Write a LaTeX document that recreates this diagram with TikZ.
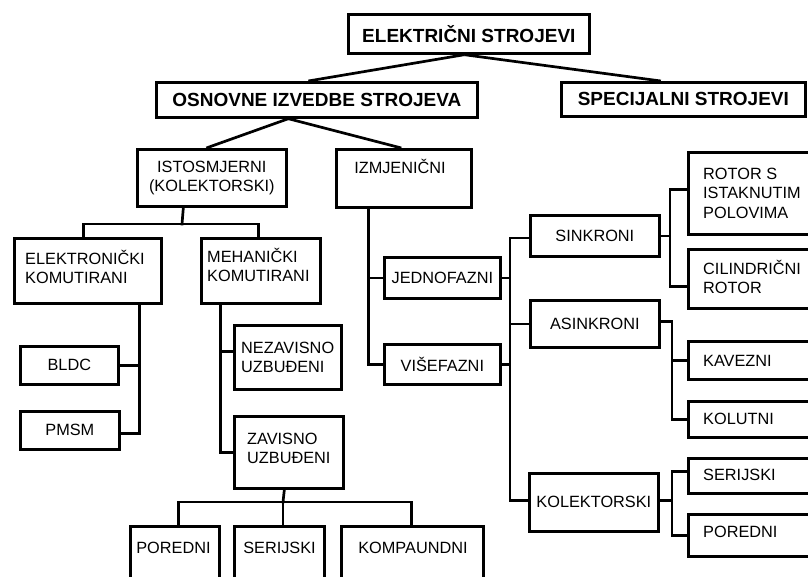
\documentclass[tikz,border=0pt]{standalone}
\usepackage{fontspec}
\setmainfont{Liberation Sans}
\newcommand\hdfont{\fontsize{19}{22}\selectfont\bfseries}
\newcommand\lbfont{\fontsize{16.3}{19.5}\selectfont}
\begin{document}
\begin{tikzpicture}[x=1pt,y=-1pt,
  box/.style={draw, line width=2.7pt, inner sep=0pt, anchor=north west},
  hd/.style={font=\hdfont, align=center},
  lb/.style={font=\lbfont, align=center},
  tx/.style={font=\lbfont, align=left, inner sep=0pt},
  conn/.style={line width=2.7pt, line cap=rect, line join=miter}]
\useasboundingbox (0,0) rectangle (808,576);
\fill[white] (0,0) rectangle (808,576);
\clip (0,0) rectangle (808,576);
% ---- boxes
\node[box,hd,minimum width=241,minimum height=39] (EL) at (347,13) {ELEKTRIČNI STROJEVI};
\node[box,hd,minimum width=321,minimum height=35] (OSN) at (155,81) {OSNOVNE IZVEDBE STROJEVA};
\node[box,hd,minimum width=244,minimum height=34] (SPEC) at (560,81) {SPECIJALNI STROJEVI};
\node[box,lb,minimum width=149,minimum height=57] (IST) at (136,148) {ISTOSMJERNI\\(KOLEKTORSKI)};
\node[box,minimum width=135,minimum height=58] (IZM) at (335,148) {};
\node[box,minimum width=147,minimum height=65] (ELK) at (13,237) {};
\node[box,minimum width=119,minimum height=65] (MEH) at (200,237) {};
\node[box,lb,minimum width=98,minimum height=38] (BLDC) at (19,345) {BLDC};
\node[box,lb,minimum width=99,minimum height=38] (PMSM) at (19,410) {PMSM};
\node[box,minimum width=107,minimum height=64] (NEZ) at (233,324) {};
\node[box,minimum width=109,minimum height=72] (ZAV) at (233,415) {};
\node[box,minimum width=89,minimum height=70] (POR) at (129,525) {};
\node[box,minimum width=90,minimum height=70] (SER) at (233,525) {};
\node[box,minimum width=142,minimum height=70] (KOM) at (340,525) {};
\node[box,lb,minimum width=116,minimum height=41] (JED) at (383,256) {JEDNOFAZNI};
\node[box,lb,minimum width=116,minimum height=40] (VIS) at (383,343) {VIŠEFAZNI};
\node[box,lb,minimum width=129,minimum height=41] (SIN) at (529,214) {SINKRONI};
\node[box,lb,minimum width=129,minimum height=47] (ASI) at (529,299) {ASINKRONI};
\node[box,lb,minimum width=129,minimum height=58] (KOL) at (528,472) {KOLEKTORSKI};
\node[box,minimum width=130,minimum height=82] (ROT) at (687,151) {};
\node[box,minimum width=130,minimum height=59] (CIL) at (687,248) {};
\node[box,minimum width=130,minimum height=38] (KAV) at (687,340) {};
\node[box,minimum width=130,minimum height=36] (KLT) at (687,400) {};
\node[box,minimum width=130,minimum height=35] (SERr) at (687,457) {};
\node[box,minimum width=130,minimum height=42] (PORr) at (687,513) {};
% ---- texts (base anchor = baseline of the last line)
\node[tx,anchor=base] (IZMt) at (400,173) {IZMJENIČNI};
\node[tx,anchor=base west] (ELKt) at (25,283.5) {ELEKTRONIČKI\\KOMUTIRANI};
\node[tx,anchor=base west] (MEHt) at (207,281.5) {MEHANIČKI\\KOMUTIRANI};
\node[tx,anchor=base west] (NEZt) at (241,372.5) {NEZAVISNO\\UZBUĐENI};
\node[tx,anchor=base west] (ZAVt) at (247,463.5) {ZAVISNO\\UZBUĐENI};
\node[tx,anchor=base] (PORt) at (173.5,553) {POREDNI};
\node[tx,anchor=base] (SERt) at (279.5,553) {SERIJSKI};
\node[tx,anchor=base] (KOMt) at (413,553) {KOMPAUNDNI};
\node[tx,anchor=base west] (ROTt) at (703,218) {ROTOR S\\ISTAKNUTIM\\POLOVIMA};
\node[tx,anchor=base west] (CILt) at (703,293.5) {CILINDRIČNI\\ROTOR};
\node[tx,anchor=base west] (KAVt) at (703,366) {KAVEZNI};
\node[tx,anchor=base west] (KLTt) at (703,424) {KOLUTNI};
\node[tx,anchor=base west] (SERrt) at (703,480) {SERIJSKI};
\node[tx,anchor=base west] (PORrt) at (703,537) {POREDNI};
% ---- bus coordinates
\coordinate (bIST) at (182,224);
\coordinate (bZAV) at (283,502);
\coordinate (bR) at (510,0);
\coordinate (bS) at (670,0);
\coordinate (bA) at (672,0);
% ---- connectors
\draw[line width=2.7pt] ([xshift=-4.5pt]EL.south) -- ([xshift=-8.5pt]OSN.north);
\draw[line width=2.7pt] ([xshift=-4.5pt]EL.south) -- ([xshift=-22.5pt]SPEC.north);
\draw[line width=2.7pt] ([xshift=-28.5pt]OSN.south) -- ([xshift=-5.5pt]IST.north);
\draw[line width=2.7pt] ([xshift=-28.5pt]OSN.south) -- ([xshift=-2.5pt]IZM.north);
\draw[conn] ([xshift=-28.5pt]IST.south) -- (bIST);
\draw[conn] ([xshift=-4.5pt]ELK.north) |- (bIST) -| ([xshift=-2.5pt]MEH.north);
\draw[conn] ([xshift=51.5pt]ELK.south) |- (BLDC.east);
\draw[conn] ([xshift=51.5pt]ELK.south) |- ([yshift=-3pt]PMSM.east);
\draw[conn] ([xshift=-40.5pt]MEH.south) |- ([yshift=6pt]NEZ.west);
\draw[conn] ([xshift=-40.5pt]MEH.south) |- (ZAV.west);
\draw[conn] ([xshift=-4.5pt]ZAV.south) -- (bZAV);
\draw[conn] ([xshift=3.5pt]POR.north) |- (bZAV) -| ([xshift=-1pt]KOM.north);
\draw[conn] (bZAV) -- (bZAV |- SER.north);
\draw[conn] ([xshift=-35.5pt]IZM.south) |- (JED.west);
\draw[conn] ([xshift=-35.5pt]IZM.south) |- (VIS.west);
\draw[conn] (JED.east) -- (JED.east -| bR);
\draw[conn] (VIS.east) -- (VIS.east -| bR);
\draw[conn] ([yshift=-2pt]SIN.west) -- ([yshift=-2pt]SIN.west -| bR) -- ([yshift=2pt]KOL.west -| bR) -- ([yshift=2pt]KOL.west);
\draw[conn] (ASI.west) -- (ASI.west -| bR);
\draw[conn] (SIN.east) -- (SIN.east -| bS);
\draw[conn] ([yshift=4pt]ROT.west) -- ([yshift=4pt]ROT.west -| bS) -- ([yshift=-7.5pt]CIL.west -| bS) -- ([yshift=-7.5pt]CIL.west);
\draw[conn] ([yshift=2.5pt]ASI.east) -| (KLT.west -| bA) -- (KLT.west);
\draw[conn] (KAV.west) -- (KAV.west -| bA);
\draw[conn] ([yshift=2pt]KOL.east) -- ([yshift=2pt]KOL.east -| bA);
\draw[conn] ([yshift=4.5pt]SERr.west) -- ([yshift=4.5pt]SERr.west -| bA) -- (PORr.west -| bA) -- (PORr.west);
\end{tikzpicture}
\end{document}
